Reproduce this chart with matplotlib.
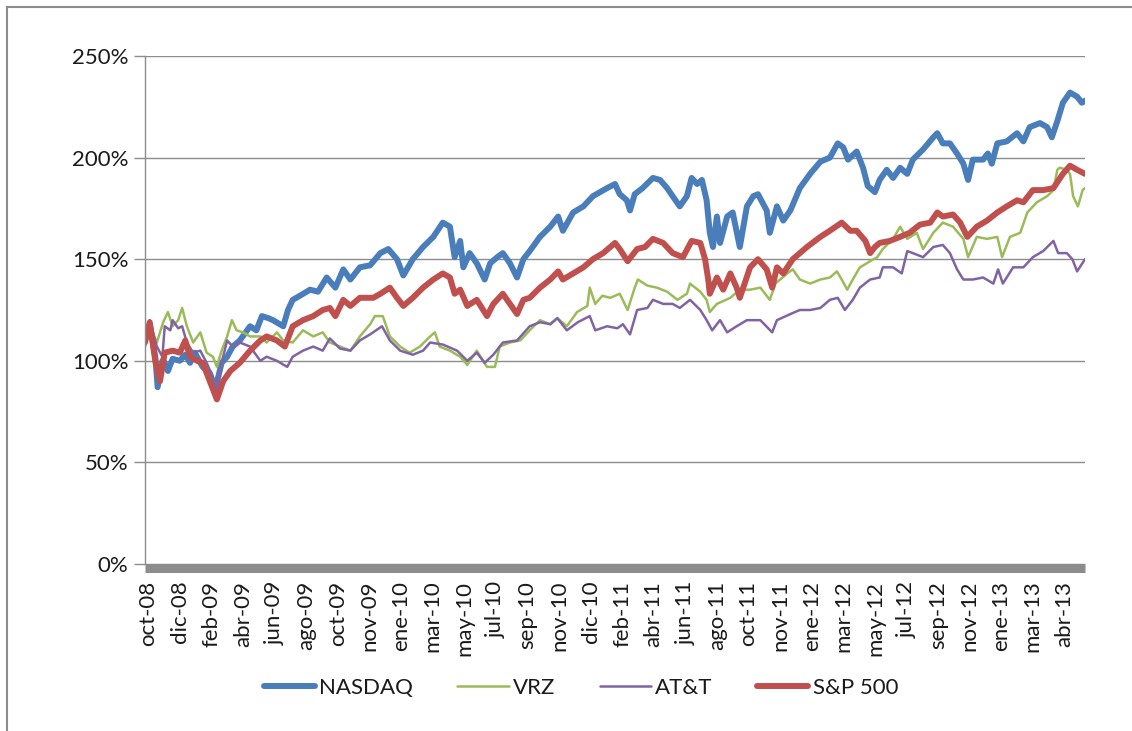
import matplotlib
matplotlib.use("Agg")
import matplotlib.pyplot as plt
from matplotlib.lines import Line2D
from matplotlib.ticker import FuncFormatter, FixedLocator, FixedFormatter

plt.rcParams['font.family'] = ['Lato', 'DejaVu Sans']

# trading-day index, value in %
NASDAQ = [(0,110),(6,118),(13,102),(16,87),(22,100),(25,99),(29,95),(35,101),(44,100),(51,103),(57,99),(63,104),
          (73,97),(82,94),(89,86),(97,99),(104,102),(111,107),(120,110),(133,117),(141,115),(148,122),(156,121),
          (162,120),(175,117),(181,125),(187,130),(196,132),(209,135),(219,134),(230,141),(241,136),(251,145),
          (260,140),(272,146),(285,147),(298,153),(308,155),(319,150),(327,142),(339,150),(352,156),(365,161),
          (377,168),(386,166),(392,151),(399,159),(403,146),(411,153),(420,148),(430,140),(437,148),(446,151),
          (453,153),(462,148),(471,141),(479,150),(487,154),(500,161),(513,166),(523,171),(529,164),(542,173),
          (555,176),(567,181),(576,183),(585,185),(595,187),(601,182),(610,179),(614,174),(620,182),(630,185),
          (643,190),(652,189),(661,185),(668,181),(677,176),(686,181),(692,190),(699,187),(705,189),(711,179),
          (715,163),(719,156),(724,171),(728,158),(737,171),(744,173),(753,156),(762,176),(770,181),(776,182),
          (787,174),(791,163),(800,176),(808,169),(817,174),(829,185),(842,192),(855,198),(867,200),(877,207),
          (884,205),(890,199),(901,203),(909,195),(915,186),(924,183),(930,189),(939,194),(947,190),(956,195),
          (965,192),(972,199),(985,204),(998,210),(1003,212),(1010,207),(1019,207),(1028,202),(1036,197),
          (1042,189),(1048,199),(1061,199),(1067,202),(1072,197),(1079,207),(1091,208),(1104,212),(1112,208),
          (1120,215),(1133,217),(1142,215),(1148,210),(1155,218),(1162,227),(1171,232),(1180,230),(1186,227),
          (1190,228)]

VRZ = [(0,112),(6,117),(15,109),(23,119),(29,124),(35,117),(42,120),(47,126),(53,117),(61,109),(70,114),(78,104),
       (86,102),(91,97),(97,105),(104,112),(110,120),(116,115),(124,114),(133,112),(146,112),(154,109),(167,114),
       (175,110),(187,109),(200,115),(213,112),(225,114),(234,109),(247,107),(260,105),(272,112),(285,118),
       (291,122),(301,122),(310,112),(323,107),(335,104),(348,107),(361,112),(367,114),(373,107),(386,105),
       (399,102),(408,98),(420,105),(433,97),(443,97),(449,107),(462,109),(475,110),(487,115),(500,120),(513,118),
       (522,121),(534,117),(547,124),(560,127),(563,136),(570,128),(579,132),(589,131),(601,133),(611,125),
       (620,136),(624,140),(636,137),(648,136),(661,134),(674,130),(686,133),(690,138),(703,134),(711,130),
       (715,124),(724,128),(741,131),(753,135),(766,135),(779,136),(791,130),(798,138),(813,143),(820,145),
       (829,140),(842,138),(855,140),(867,141),(876,144),(882,140),(889,135),(896,140),(905,146),(918,149),
       (927,151),(934,155),(947,160),(956,166),(965,160),(977,163),(985,155),(998,163),(1010,168),(1023,166),
       (1036,160),(1042,151),(1053,161),(1066,160),(1079,161),(1085,151),(1095,161),(1108,163),(1117,173),
       (1129,178),(1142,181),(1150,184),(1155,194),(1158,195),(1167,194),(1171,192),(1175,181),(1181,176),
       (1187,184),(1190,185)]

ATT = [(0,107),(6,120),(15,107),(22,102),(25,117),(32,115),(35,120),(42,116),(47,117),(53,109),(61,104),(70,105),
       (78,99),(86,92),(91,87),(97,99),(104,110),(111,107),(120,109),(133,107),(146,100),(154,102),(167,100),
       (180,97),(187,102),(200,105),(213,107),(225,105),(234,111),(247,106),(260,105),(272,110),(285,113),
       (300,117),(310,110),(323,105),(339,103),(352,105),(361,109),(377,108),(395,105),(408,100),(420,104),
       (430,99),(441,103),(453,109),(471,110),(487,117),(500,119),(513,118),(522,121),(534,115),(548,119),
       (563,122),(570,115),(585,117),(598,116),(605,118),(614,113),(623,125),(636,126),(643,130),(656,128),
       (668,128),(677,126),(690,130),(703,125),(711,120),(718,115),(728,120),(737,114),(749,117),(762,120),
       (779,120),(794,114),(800,120),(817,123),(829,125),(842,125),(855,126),(867,130),(877,131),(886,125),
       (896,130),(905,136),(918,140),(930,141),(934,146),(947,146),(958,143),(965,154),(972,153),(985,151),
       (998,156),(1010,157),(1019,153),(1028,145),(1036,140),(1048,140),(1061,141),(1074,138),(1080,145),
       (1086,138),(1099,146),(1112,146),(1124,151),(1137,154),(1150,159),(1156,153),(1167,153),(1174,150),
       (1180,144),(1190,150)]

SP500 = [(0,109),(6,119),(13,100),(19,90),(25,104),(35,105),(44,104),(51,110),(57,102),(66,100),(73,99),(82,90),
         (91,81),(99,90),(108,95),(120,99),(133,105),(146,110),(154,112),(167,110),(177,107),(187,117),(200,120),
         (213,122),(225,125),(234,126),(241,122),(251,130),(260,127),(272,131),(289,131),(298,133),(310,136),
         (319,131),(327,127),(339,131),(352,136),(365,140),(377,143),(386,141),(392,133),(399,135),(408,127),
         (420,130),(433,122),(441,128),(453,133),(462,128),(471,123),(479,130),(487,131),(500,136),(513,140),
         (523,144),(529,140),(542,143),(555,146),(567,150),(580,153),(595,158),(601,155),(611,149),(623,155),
         (633,156),(643,160),(656,158),(668,153),(681,151),(692,159),(703,158),(709,150),(713,140),(715,133),
         (724,141),(732,135),(741,143),(749,136),(753,131),(766,146),(776,150),(787,145),(794,136),(800,146),
         (808,143),(820,150),(838,156),(855,161),(867,164),(882,168),(893,164),(901,164),(912,159),(918,153),
         (924,156),(930,158),(943,159),(956,161),(968,163),(981,167),(994,168),(1003,173),(1010,171),(1023,172),
         (1032,168),(1041,161),(1053,166),(1066,169),(1079,173),(1091,176),(1104,179),(1112,178),(1124,184),
         (1137,184),(1150,185),(1162,192),(1171,196),(1180,194),(1190,192)]

TICK_LABELS = ['oct-08','dic-08','feb-09','abr-09','jun-09','ago-09','oct-09','nov-09','ene-10','mar-10',
               'may-10','jul-10','sep-10','nov-10','dic-10','feb-11','abr-11','jun-11','ago-11','oct-11',
               'nov-11','ene-12','mar-12','may-12','jul-12','sep-12','nov-12','ene-13','mar-13','abr-13']
TICK_DAYS = [4 + 40 * i for i in range(len(TICK_LABELS))]
N_DAYS = 1190

series = [
    ('NASDAQ', NASDAQ, '#4A7EBB', 4.3),
    ('VRZ', VRZ, '#9BBB59', 1.8),
    ('AT&T', ATT, '#8064A2', 1.8),
    ('S&P 500', SP500, '#C0504D', 4.3),
]

fig = plt.figure(figsize=(11.32, 7.31), dpi=100)
ax = fig.add_axes([145/1132, 1 - 564/731, (1085-145)/1132, (564-56)/731])

for name, data, color, lw in series:
    xs = [d for d, v in data]
    ys = [v for d, v in data]
    ax.plot(xs, ys, color=color, lw=lw, label=name, solid_joinstyle='round', solid_capstyle='round')

ax.set_xlim(0, N_DAYS)
ax.set_ylim(0, 250)
ax.yaxis.set_major_locator(FixedLocator([0, 50, 100, 150, 200, 250]))
ax.yaxis.set_major_formatter(FuncFormatter(lambda v, p: f"{int(v)}%"))
ax.grid(axis='y', color='#8c8c8c', lw=1.0)
ax.set_axisbelow(True)

ax.xaxis.set_major_locator(FixedLocator(TICK_DAYS))
ax.xaxis.set_major_formatter(FixedFormatter(TICK_LABELS))
ax.tick_params(axis='x', length=0, pad=9, labelrotation=90, labelsize=16, labelcolor='#1a1a1a')
ax.tick_params(axis='y', length=8, width=1, color='#8c8c8c', labelsize=16, labelcolor='#1a1a1a', pad=4)

for s in ['top', 'right']:
    ax.spines[s].set_visible(False)
ax.spines['left'].set_color('#8c8c8c')
ax.spines['left'].set_linewidth(1.0)
ax.spines['bottom'].set_color('#8c8c8c')
ax.spines['bottom'].set_linewidth(6.5)
ax.spines['bottom'].set_capstyle('butt')
ax.spines['bottom'].set_position(('outward', 3))

leg = fig.legend(loc='center', bbox_to_anchor=(581/1132, 1 - 688/731), ncol=4, frameon=False,
                 fontsize=16, handlelength=2.3, handletextpad=0.2, columnspacing=2.0)
for t in leg.get_texts():
    t.set_color('#1a1a1a')

# outer chart frame (left and top edges)
fig.add_artist(Line2D([7/1132, 7/1132], [0, 1 - 7/731], color='#8c8c8c', lw=1.5, transform=fig.transFigure))
fig.add_artist(Line2D([7/1132, 1], [1 - 7/731, 1 - 7/731], color='#8c8c8c', lw=1.5, transform=fig.transFigure))

fig.savefig('out.png', dpi=100)
